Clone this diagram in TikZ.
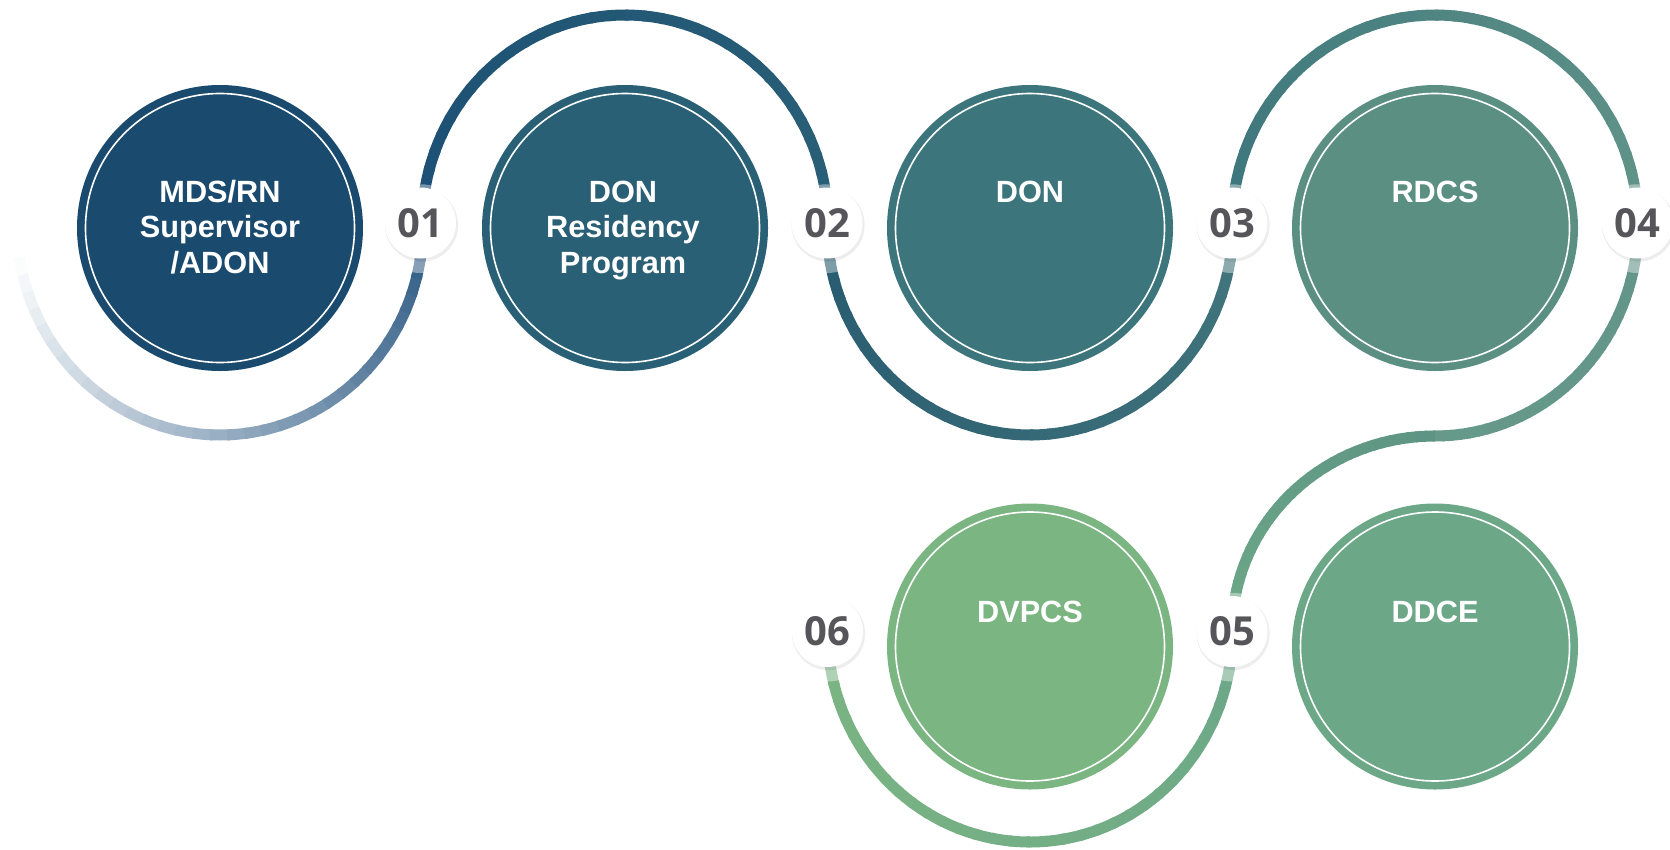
\documentclass[tikz,border=0pt]{standalone}
\usepackage{fontspec}
\setmainfont{Liberation Sans}
\newfontfamily\numfont{Open Sans}
\usetikzlibrary{shadows}

\definecolor{stepA}{HTML}{1A4A6E}
\definecolor{stepB}{HTML}{2A6076}
\definecolor{stepC}{HTML}{3C757C}
\definecolor{stepD}{HTML}{5A8F82}
\definecolor{stepE}{HTML}{6CA888}
\definecolor{stepF}{HTML}{7BB582}
\definecolor{trackA}{HTML}{2A5882}
\definecolor{trackB}{HTML}{1C5075}
\definecolor{numgray}{HTML}{55555A}

% centre, x radius, y radius, from, to, colour at start, colour at end
\newcommand{\trackarc}[7]{%
  \foreach \k in {0,...,35}{
    \pgfmathsetmacro{\aa}{#4+(#5-#4)*\k/36}
    \pgfmathsetmacro{\ab}{#4+(#5-#4)*(\k+1.2)/36}
    \pgfmathtruncatemacro{\mx}{100*\k/35}
    \draw[track, draw={#7!\mx!#6}] ([shift={(\aa:#2 and #3)}]#1) arc[start angle=\aa, end angle=\ab, x radius=#2, y radius=#3];
  }}

\begin{document}
\begin{tikzpicture}[x=1pt,y=-1pt,
    track/.style={line width=11pt},
    stage/.style={circle, minimum size=269pt, inner sep=0pt, fill=#1, draw=#1, double=white, double distance=1.6pt, line width=7.7pt},
    caption/.style={anchor=base, align=center, text=white, font=\bfseries\fontsize{30.7}{35.8}\selectfont},
    badge/.style={circle, fill=white, minimum size=71pt, inner sep=0pt, text=numgray,
        font=\numfont\bfseries\fontsize{40}{40}\selectfont,
        drop shadow={shadow xshift=0pt, shadow yshift=-4.5pt, shadow scale=1.25, fill=white, opacity=0.4},
        drop shadow={shadow xshift=1pt, shadow yshift=-2pt, shadow scale=1.03, fill=black, opacity=0.07}}]
    \useasboundingbox (0,0) rectangle (1670,849);

    \coordinate (o1) at (220,225);
    \coordinate (o2) at (625,225);
    \coordinate (o3) at (1030,225);
    \coordinate (o4) at (1435,225);
    \coordinate (o5) at (1435,631.5);
    \coordinate (o6) at (1030,631.5);

    \trackarc{o1}{203}{210}{176}{0}{white}{trackA}
    \trackarc{o2}{203}{210}{180}{360}{trackB}{stepB}
    \trackarc{o3}{203}{210}{180}{0}{stepB!95!black}{stepC!95!white}
    \trackarc{o4}{203}{210}{180}{360}{stepC}{stepD!95!white}
    \trackarc{o4}{203}{211}{0}{90}{stepD!95!white}{stepD!80!stepE}
    \trackarc{o5}{203}{195.5}{270}{180}{stepD!80!stepE}{stepE}
    \trackarc{o6}{202.5}{210.5}{0}{180}{stepE}{stepF}

    \node[stage=stepA] (s1) at (220,228) {};
    \node[stage=stepB] (s2) at (625,228) {};
    \node[stage=stepC] (s3) at (1030,228) {};
    \node[stage=stepD] (s4) at (1435,228) {};
    \node[stage=stepE] (s5) at (1435,646.5) {};
    \node[stage=stepF] (s6) at (1030,646.5) {};

    % base of a three-line caption is its last line
    \node[caption] (t1) at (220,273.6) {MDS/RN\\Supervisor\\/ADON};
    \node[caption] (t2) at (623,273.6) {DON\\Residency\\Program};
    \node[caption] (t3) at (1030,202) {DON};
    \node[caption] (t4) at (1435,202) {RDCS};
    \node[caption] (t5) at (1435,622.5) {DDCE};
    \node[caption] (t6) at (1030,622.5) {DVPCS};

    \node[badge] (b1) at (420.5,223) {01};
    \node[badge] (b2) at (827,223) {02};
    \node[badge] (b3) at (1232,223) {03};
    \node[badge] (b4) at (1637.5,223) {04};
    \node[badge] (b5) at (1232,631.5) {05};
    \node[badge] (b6) at (827.5,631.5) {06};
\end{tikzpicture}
\end{document}
